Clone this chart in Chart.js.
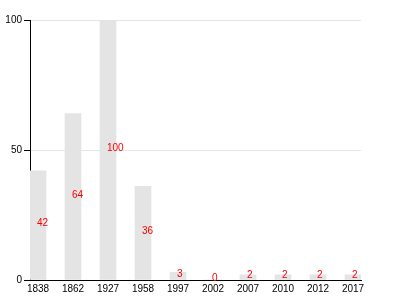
<!DOCTYPE html>
<html>
<head>
<meta charset="utf-8">
<script src="https://cdn.jsdelivr.net/npm/chart.js@4"></script>
<style>
  html, body { margin: 0; padding: 0; background: #fff; }
  #wrap { width: 400px; height: 300px; }
</style>
</head>
<body>
<div id="wrap"><canvas id="chart" width="400" height="300"></canvas></div>
<script>
const years = ['1838', '1862', '1927', '1958', '1997', '2002', '2007', '2010', '2012', '2017'];
const values = [42, 64, 100, 36, 3, 0, 2, 2, 2, 2];
const yTicks = [0, 50, 100];

Chart.defaults.font.family = "'Liberation Sans', Arial, sans-serif";
Chart.defaults.font.size = 10;
Chart.defaults.color = '#000';

// etiquetas vermelhas no meio de cada barra
const labelPlugin = {
  id: 'labelPlugin',
  afterDatasetsDraw(chart) {
    const { ctx } = chart;
    const meta = chart.getDatasetMeta(0);
    ctx.save();
    ctx.font = "10px 'Liberation Sans', Arial, sans-serif";
    ctx.fillStyle = '#ff0000';
    ctx.textAlign = 'left';
    ctx.textBaseline = 'alphabetic';
    meta.data.forEach((bar, i) => {
      const midY = (bar.y + bar.base) / 2;
      ctx.fillText(String(values[i]), bar.x - 1, midY + 1);
    });
    ctx.restore();
  },
};

new Chart(document.getElementById('chart'), {
  type: 'bar',
  plugins: [labelPlugin],
  data: {
    datasets: [{
      data: values.map((v, i) => ({ x: i, y: v })),
      backgroundColor: '#e4e4e4',
      barThickness: 16,
    }],
  },
  options: {
    responsive: false,
    animation: false,
    layout: { padding: { top: 20, right: 39, bottom: 0, left: 0 } },
    plugins: { legend: { display: false }, tooltip: { enabled: false } },
    scales: {
      x: {
        type: 'linear',
        offset: false,
        min: -8 / 35,
        max: 9 + 8 / 35,
        afterBuildTicks: (scale) => { scale.ticks = years.map((_, i) => ({ value: i })); },
        afterFit: (scale) => { scale.height = 20; },
        ticks: {
          autoSkip: false,
          maxRotation: 0,
          padding: 3,
          callback: (v) => years[v],
        },
        grid: { display: false, drawTicks: false },
        border: { display: true, color: '#000', width: 1 },
      },
      y: {
        min: 0,
        max: 100,
        afterBuildTicks: (scale) => { scale.ticks = yTicks.map((v) => ({ value: v })); },
        afterFit: (scale) => { scale.width = 30; },
        ticks: { padding: 2 },
        grid: { color: '#e6e6e6', tickColor: '#000', tickLength: 6 },
        border: { display: true, color: '#000', width: 1 },
      },
    },
  },
});
</script>
</body>
</html>
